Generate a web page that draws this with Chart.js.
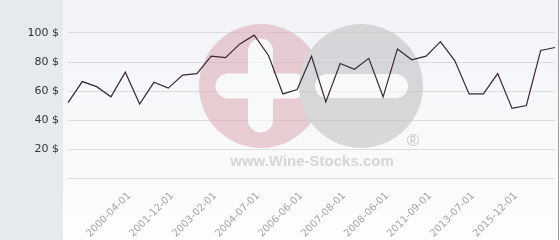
<!DOCTYPE html>
<html>
<head>
<meta charset="utf-8">
<script src="https://cdn.jsdelivr.net/npm/chart.js@4.4.0/dist/chart.umd.min.js"></script>
<style>
  html, body { margin: 0; padding: 0; background: #ffffff; }
  #wrap { width: 560px; height: 240px; position: relative; }
</style>
</head>
<body>
<div id="wrap"><canvas id="c" width="560" height="240"></canvas></div>
<script>
// Category labels (only every third one is printed on the reference axis)
const dateLabels = [
  '', '', '', '', '2000-04-01', '', '', '2001-12-01', '', '',
  '2003-02-01', '', '', '2004-07-01', '', '', '2006-06-01', '', '',
  '2007-08-01', '', '', '2008-06-01', '', '', '2011-09-01', '', '',
  '2013-07-01', '', '', '2015-12-01', '', '', ''
];
// Price series ($)
const prices = [
  52, 66.5, 63, 56, 73, 51, 66, 62, 71, 72,
  84, 83, 92.5, 98.5, 84.5, 58, 61, 84, 52.5, 79,
  75, 82.5, 56, 89, 81.5, 84, 94, 81, 58, 58,
  72, 48, 50, 88, 90
];
// Y axis
const yMin = 0;
const yMax = 120;
const yStep = 20;
const yLabelMax = 100;
const currency = ' $';

const bgPlugin = {
  id: 'bg',
  beforeDraw(chart) {
    const ctx = chart.ctx;
    ctx.save();
    ctx.fillStyle = '#ffffff';
    ctx.fillRect(0, 0, 560, 240);
    ctx.fillStyle = '#e6eaed';
    ctx.fillRect(0, 0, 63, 240);
    const g = ctx.createLinearGradient(0, 0, 0, 240);
    g.addColorStop(0, '#f2f3f7');
    g.addColorStop(1, '#fdfdfe');
    ctx.fillStyle = g;
    ctx.fillRect(63, 0, 495, 240);
    ctx.strokeStyle = '#9a9a9a';
    ctx.lineWidth = 1;
    ctx.beginPath();
    ctx.moveTo(558.5, 0);
    ctx.lineTo(558.5, 240);
    ctx.stroke();
    ctx.restore();
  }
};

const watermarkPlugin = {
  id: 'wm',
  beforeDatasetsDraw(chart) {
    const ctx = chart.ctx;
    const off = document.createElement('canvas');
    off.width = 560; off.height = 240;
    const o = off.getContext('2d');
    // pink circle with cross
    o.fillStyle = '#deb0b9';
    o.beginPath(); o.arc(261, 86, 62, 0, Math.PI * 2); o.fill();
    o.strokeStyle = '#fbfbfb';
    o.lineCap = 'round';
    o.lineWidth = 25;
    o.beginPath(); o.moveTo(228, 86); o.lineTo(294, 86); o.stroke();
    o.beginPath(); o.moveTo(260.5, 51); o.lineTo(260.5, 120); o.stroke();
    // gray circle with minus
    o.fillStyle = '#c3c3c6';
    o.beginPath(); o.arc(361, 86, 62, 0, Math.PI * 2); o.fill();
    o.lineWidth = 24;
    o.beginPath(); o.moveTo(327, 86); o.lineTo(396, 86); o.stroke();
    ctx.save();
    ctx.globalAlpha = 0.6;
    ctx.drawImage(off, 0, 0);
    ctx.globalAlpha = 1;
    ctx.fillStyle = '#c8c8ca';
    ctx.font = '17px "Liberation Sans", Arial, sans-serif';
    ctx.textAlign = 'center';
    ctx.textBaseline = 'alphabetic';
    ctx.fillText('\u00AE', 413, 146);
    ctx.fillStyle = '#d6d6d8';
    ctx.font = 'bold 15px "Liberation Sans", Arial, sans-serif';
    ctx.fillText('www.Wine-Stocks.com', 312, 166);
    ctx.restore();
  }
};

new Chart(document.getElementById('c'), {
  type: 'line',
  data: {
    labels: dateLabels,
    datasets: [{
      data: prices,
      borderColor: '#3a2634',
      borderWidth: 1.2,
      pointRadius: 0,
      pointHoverRadius: 0,
      tension: 0,
      fill: false
    }]
  },
  options: {
    responsive: false,
    animation: false,
    devicePixelRatio: 1,
    layout: { padding: { left: 0, right: 5, top: 4, bottom: 0 } },
    plugins: { legend: { display: false }, tooltip: { enabled: false } },
    scales: {
      x: {
        type: 'category',
        offset: false,
        grid: { display: false, drawTicks: false },
        border: { display: false },
        ticks: {
          autoSkip: false,
          minRotation: 45,
          maxRotation: 45,
          padding: 12,
          labelOffset: 4,
          color: '#a4a4a4',
          font: { family: '"DejaVu Sans", sans-serif', size: 10 }
        },
        afterFit(s) { s.height = 62; s.paddingLeft = 0; s.paddingRight = 0; }
      },
      y: {
        min: yMin,
        max: yMax,
        grid: {
          drawTicks: false,
          color: (c) => (c.tick && c.tick.value > yLabelMax) ? 'rgba(0,0,0,0)' : '#dcdcdc',
          lineWidth: 1
        },
        border: { display: false },
        ticks: {
          stepSize: yStep,
          padding: 9,
          color: '#333333',
          font: { family: '"DejaVu Sans", sans-serif', size: 11 },
          callback: (v) => (v === yMin || v > yLabelMax) ? '' : v + currency
        },
        afterFit(s) { s.width = 68; s.paddingTop = 0; s.paddingBottom = 0; }
      }
    }
  },
  plugins: [bgPlugin, watermarkPlugin]
});
</script>
</body>
</html>
